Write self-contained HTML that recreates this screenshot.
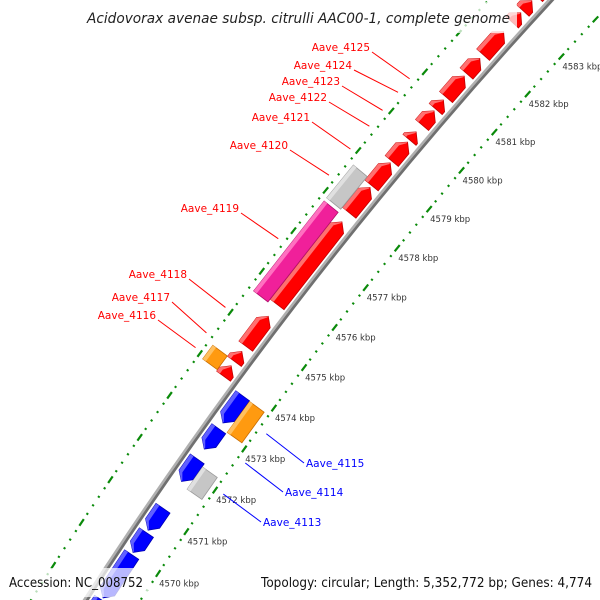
<!DOCTYPE html>
<html><head><meta charset="utf-8"><style>
html,body{margin:0;padding:0;background:#fff;overflow:hidden}
svg{display:block}
text{font-family:"DejaVu Sans","Liberation Sans",sans-serif}
</style></head><body>
<svg id="chart" width="600" height="600" viewBox="0 0 600 600" xmlns="http://www.w3.org/2000/svg">
<g id="rulers"></g>
<g id="backbone"></g>
<g id="genes"></g>
<g id="labels"></g>
<rect x="84" y="2" width="433" height="31" fill="#fff" fill-opacity="0.72"/>
<text x="87" y="23" font-size="14" font-style="italic" fill="#222" textLength="423" lengthAdjust="spacingAndGlyphs">Acidovorax avenae subsp. citrulli AAC00-1, complete genome</text>
<rect x="5" y="568" width="143" height="29" fill="#fff" fill-opacity="0.72"/>
<text x="9" y="587" font-size="13" fill="#111" textLength="134" lengthAdjust="spacingAndGlyphs">Accession: NC_008752</text>
<rect x="256" y="568" width="340" height="29" fill="#fff" fill-opacity="0.72"/>
<text x="261" y="587" font-size="13" fill="#111" textLength="331" lengthAdjust="spacingAndGlyphs">Topology: circular; Length: 5,352,772 bp; Genes: 4,774</text>
</svg>
<script>
// ---- data (kbp) ----
const fwdStart = [4573.92,4574.28,4574.65,4575.67,4577.95,4578.64,4579.26,4579.80,4580.18,4580.59,4580.90,4581.51,4582.00,4582.85,4583.16,4583.55];
const fwdEnd   = [4574.17,4574.52,4575.38,4577.72,4578.59,4579.21,4579.74,4580.00,4580.54,4580.82,4581.44,4581.90,4582.60,4583.10,4583.42,4583.80];
const revStart = [4573.17,4572.54,4571.76,4570.60,4570.07,4569.00,4567.90];
const revEnd   = [4573.83,4573.03,4572.30,4571.12,4570.54,4570.02,4568.95];
const featStart = [4573.07,4571.70,4573.95,4575.60,4577.90];
const featEnd   = [4573.82,4572.23,4574.28,4577.82,4578.72];
const featSide  = [-1,-1,1,1,1];
const featKind  = ["orange","gray","orange","pink","gray"];
const fwdLabels = ["Aave_4116","Aave_4117","Aave_4118","Aave_4119","Aave_4120","Aave_4121","Aave_4122","Aave_4123","Aave_4124","Aave_4125"];
const fwdLabelTarget = [0,1,2,3,4,5,6,7,8,9];
const revLabels = ["Aave_4115","Aave_4114","Aave_4113"];
const revLabelTarget = [0,1,2];
const tickLabels = [4570,4571,4572,4573,4574,4575,4576,4577,4578,4579,4580,4581,4582,4583];

// ---- layout ----
const NS="http://www.w3.org/2000/svg";
const CX=3821, CY=3015, R=4448, DEG=0.657, K0=4572, A0=-145;
function ang(k){return (A0+DEG*(k-K0))*Math.PI/180;}
function pt(k,r){const a=ang(k);return [CX+r*Math.cos(a),CY+r*Math.sin(a)];}
function mk(tag,attrs,parent){const e=document.createElementNS(NS,tag);for(const a in attrs)e.setAttribute(a,attrs[a]);parent.appendChild(e);return e;}
function ptsStr(a){return a.map(p=>p[0].toFixed(2)+","+p[1].toFixed(2)).join(" ");}
const KPX=R*DEG*Math.PI/180; // px per kbp

// rulers
const gR=document.getElementById("rulers");
[[R+46,false],[R-46,true]].forEach(([r,lab])=>{
  for(let i=22830;i<=22930;i+=1){
    const k=i/5, a=ang(k), p=pt(k,r);
    const major=i%5===0;
    const L=major?8:2;
    const tx=-Math.sin(a), ty=Math.cos(a);
    const d=mk("line",{x1:p[0]-tx*L/2,y1:p[1]-ty*L/2,x2:p[0]+tx*L/2,y2:p[1]+ty*L/2,stroke:"#0a8a0a","stroke-width":2.2},gR);
    
    
  }
});
tickLabels.forEach(k=>{
  const p=pt(k,R-46);
  const t=mk("text",{x:p[0]+1,y:p[1]+13,"font-size":"8.5",fill:"#333"},gR);
  
  
  t.textContent=k+" kbp";
});

// backbone
const gB=document.getElementById("backbone");
function arc(r,k1,k2){const a=pt(k1,r),b=pt(k2,r);return "M"+a[0]+","+a[1]+" A"+r+","+r+" 0 0 1 "+b[0]+","+b[1];}
const b1=mk("path",{d:arc(R-1.2,4566,4586),stroke:"#707070","stroke-width":3,fill:"none"},gB);


const b2=mk("path",{d:arc(R+1.3,4566,4586),stroke:"#b0b0b0","stroke-width":2.6,fill:"none"},gB);



// genes
const gG=document.getElementById("genes");
const COL={red:["#ff0000","#ff7070","#c00000"],blue:["#0000ff","#6060ff","#0000b0"],orange:["#ff9a10","#ffc060","#c86c00"],gray:["#c6c6c6","#e0e0e0","#9a9a9a"],pink:["#f0209a","#ff70c0","#b0106a"]};
function gene(k1,k2,off,w,dir,kind,name){
  const ro=R+off+w/2, ri=R+off-w/2, rm=R+off;
  const c=COL[kind];
  const len=(k2-k1), head=Math.min(8/KPX,len);
  let poly, hi;
  if(dir>0){
    const kb=k2-head;
    poly=[pt(k1,ri),pt(k1,ro),pt(kb,ro),pt(k2,rm),pt(kb,ri)];
    hi=[pt(k1,ro),pt(kb,ro),pt(k2,rm),pt(k2-0.03,rm),pt(kb,ro-4),pt(k1,ro-4)];
  }else if(dir<0){
    const kb=k1+head;
    poly=[pt(k1,rm),pt(kb,ro),pt(k2,ro),pt(k2,ri),pt(kb,ri)];
    hi=[pt(k1,rm),pt(kb,ro),pt(k2,ro),pt(k2,ro-4),pt(kb,ro-4),pt(k1+0.03,rm)];
  }else{
    poly=[pt(k1,ri),pt(k1,ro),pt(k2,ro),pt(k2,ri)];
    hi=[pt(k1,ro),pt(k2,ro),pt(k2,ro-4),pt(k1,ro-4)];
  }
  const g=mk("g",{},gG);
  
  
  const body=mk("polygon",{points:ptsStr(poly),fill:c[0],stroke:c[2],"stroke-width":0.8},g);
  
  
  const h=mk("polygon",{points:ptsStr(hi),fill:c[1]},g);
  
  
}
fwdStart.forEach((s,i)=>gene(s,fwdEnd[i],13.5,17,1,"red","forward-gene-"+i));
revStart.forEach((s,i)=>gene(s,revEnd[i],-13.5,17,-1,"blue","reverse-gene-"+i));
featStart.forEach((s,i)=>gene(s,featEnd[i],31.5*featSide[i],18,0,featKind[i],"feature-"+featKind[i]+"-"+i));

// labels
const gL=document.getElementById("labels");
const fwdPos=[[156,319],[170,301],[187,278],[239,212],[288,149],[310,121],[327,101],[340,85],[352,69],[370,51]];
fwdLabels.forEach((s,i)=>{
  const j=fwdLabelTarget[i], k=(fwdStart[j]+fwdEnd[j])/2, p=pt(k,R+53);
  const ln=mk("line",{x1:fwdPos[i][0]+2,y1:fwdPos[i][1]+1,x2:p[0],y2:p[1],stroke:"#ff0000","stroke-width":1},gL);
  
  
  const t=mk("text",{x:fwdPos[i][0],y:fwdPos[i][1],"text-anchor":"end","font-size":"10.5",fill:"#ff0000"},gL);
  
  
  t.textContent=s;
});
const revPos=[[306,467],[285,496],[263,526]];
revLabels.forEach((s,i)=>{
  const j=revLabelTarget[i], k=(revStart[j]+revEnd[j])/2, p=pt(k,R-55);
  const ln=mk("line",{x1:p[0],y1:p[1],x2:revPos[i][0]-2,y2:revPos[i][1]-4,stroke:"#0000ff","stroke-width":1},gL);
  
  
  const t=mk("text",{x:revPos[i][0],y:revPos[i][1],"font-size":"10.5",fill:"#0000ff"},gL);
  
  
  t.textContent=s;
});
</script>
</body></html>
